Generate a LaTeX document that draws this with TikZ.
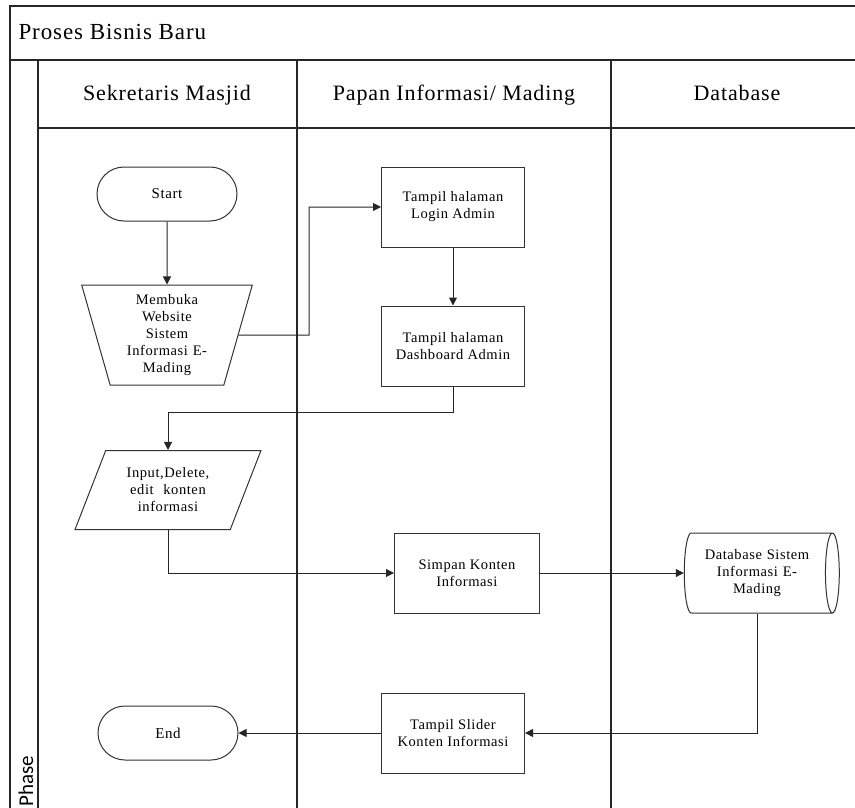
\documentclass[tikz,border=0pt]{standalone}
\usepackage{fontspec}
\setmainfont[LetterSpace=4]{Liberation Serif}
\newfontfamily\phasefont{Carlito}
\usetikzlibrary{shapes.geometric,shapes.misc,arrows.meta}

\tikzset{
  lane/.style={line width=1.3pt, draw=black!85},
  box/.style={draw=black!80, line width=1pt, fill=white, align=center,
    font=\fontsize{14.5}{17}\selectfont, inner sep=2pt},
  proc/.style={box, rectangle, minimum width=143pt, minimum height=80pt},
  term/.style={box, rounded rectangle, minimum width=144pt, minimum height=54pt,
    font=\fontsize{15}{18}\selectfont},
  arr/.style={draw=black!85, line width=1pt, -{Triangle[length=8pt,width=8pt]}},
  lanehead/.style={font=\fontsize{22}{26}\selectfont, anchor=base}
}

\begin{document}
\begin{tikzpicture}[x=1pt,y=-1pt]
\useasboundingbox (0,0) rectangle (855,808);

% pool frame and lanes
\draw[lane] (866,6) -- (10,6) -- (10,820);
\draw[lane] (10,60) -- (866,60);
\draw[lane] (38,60) -- (38,820);
\draw[lane] (38,128) -- (866,128);
\draw[lane] (297,60) -- (297,820);
\draw[lane] (611,60) -- (611,820);

\node[anchor=base west, font=\fontsize{23}{27}\selectfont] (title) at (15,40) {Proses Bisnis Baru};
\node[lanehead] (h1) at (167,101) {Sekretaris Masjid};
\node[lanehead] (h2) at (454,101) {Papan Informasi/ Mading};
\node[lanehead] (h3) at (737,101) {Database};
\node[rotate=90, anchor=base west, font=\phasefont\fontsize{21}{24}\selectfont] (phase) at (33,810) {Phase};

% flow nodes
\node[term] (start) at (167,194) {Start};
\node[box, trapezium, trapezium angle=73, trapezium stretches=true,
      shape border rotate=180, minimum width=171pt, minimum height=100pt,
      text width=100pt] (buka) at (167,335)
      {Membuka\\Website\\Sistem\\Informasi E-\\Mading};
\node[proc] (login) at (453,207) {Tampil halaman\\Login Admin};
\node[proc] (dash) at (453,346) {Tampil halaman\\Dashboard Admin};
\node[box, trapezium, trapezium left angle=62, trapezium right angle=118,
      trapezium stretches=true, minimum width=186pt, minimum height=79pt,
      text width=100pt] (input) at (168,490)
      {Input,Delete,\\edit\ \ konten\\informasi};
\node[proc, minimum width=145pt] (simpan) at (467,573) {Simpan Konten\\Informasi};
\node[box, cylinder, aspect=0.27, minimum height=155pt, minimum width=80pt,
      text width=120pt] (db) at (757,573)
      {Database Sistem\\Informasi E-\\Mading};
\node[proc] (slider) at (453,733) {Tampil Slider\\Konten Informasi};
\node[term] (end) at (168,733) {End};

% connectors
\coordinate (j1) at (309,335);
\draw[arr] (start) -- (buka);
\draw[arr] (buka.east) -- (j1) |- (login.west);
\draw[arr] (login) -- (dash);
\draw[arr] (dash.south) -- ++(0,26) -| (input.north);
\draw[arr] (input.south) |- (simpan.west);
\draw[arr] (simpan.east) -- (db.west);
\draw[arr] (db.south) |- (slider.east);
\draw[arr] (slider.west) -- (end.east);
\end{tikzpicture}
\end{document}
